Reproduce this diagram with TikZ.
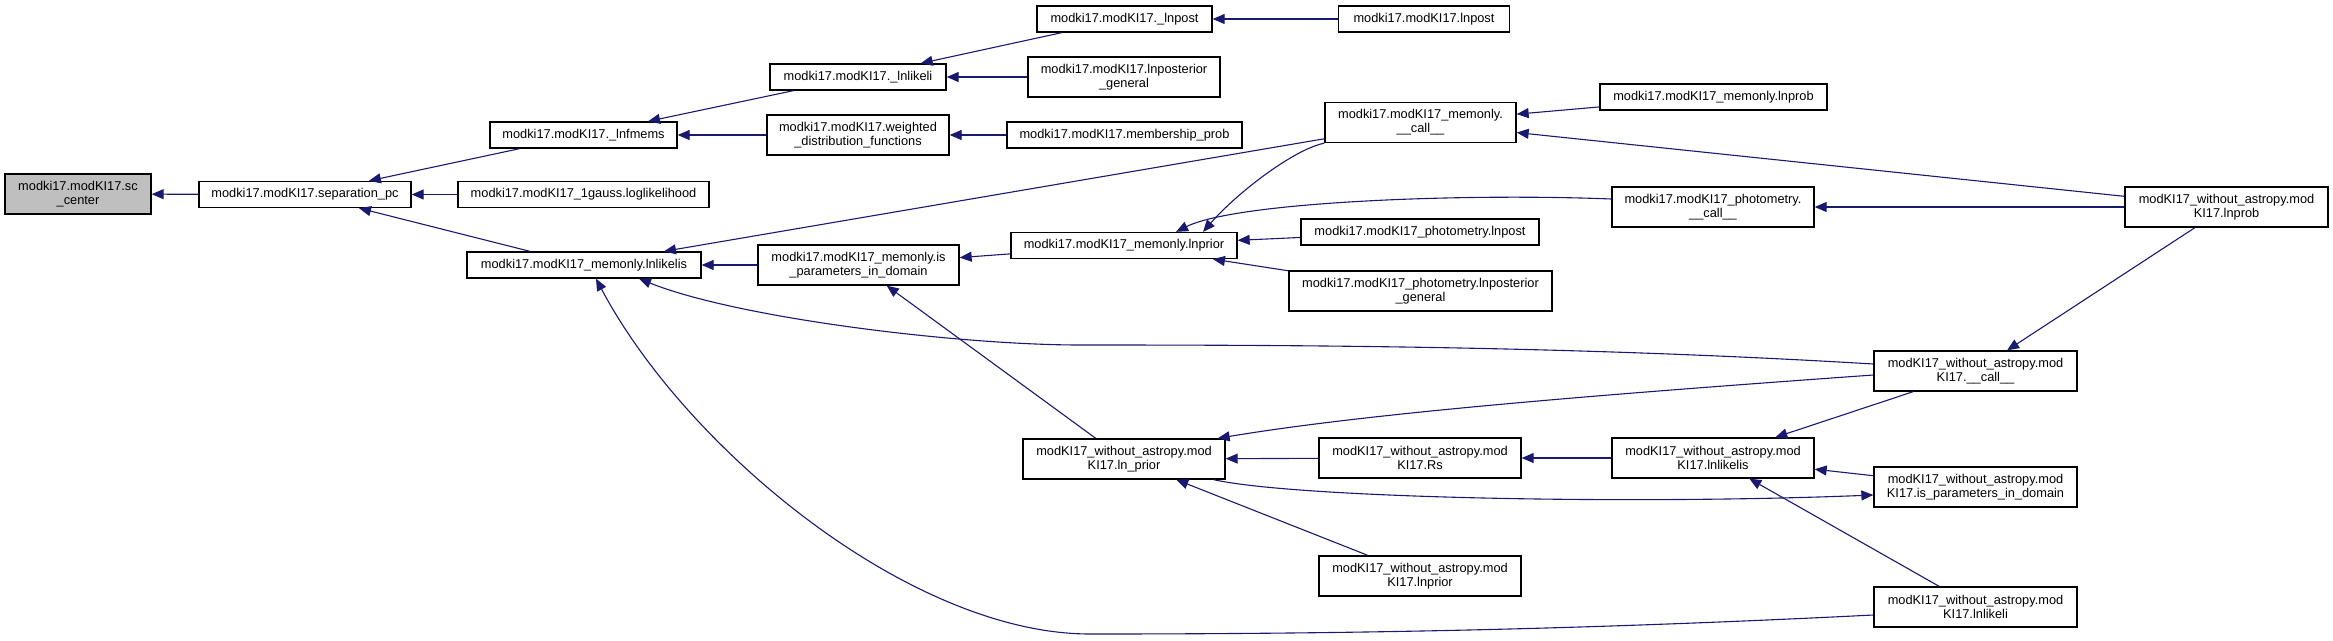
\documentclass[tikz,border=0pt]{standalone}
\usepackage{fontspec}
\setmainfont{Liberation Sans}
\usepackage{tikz}
\usetikzlibrary{positioning, arrows.meta, calc}
\usepackage{xcolor}
\definecolor{dxedge}{HTML}{191970}
\definecolor{dxroot}{HTML}{BFBFBF}

\begin{document}
\begin{tikzpicture}[x=1pt, y=-1pt, font=\fontsize{12.8}{14}\selectfont,
    fn/.style={draw=black, fill=white, line width=1.3pt, inner sep=0pt,
               align=center, minimum height=26pt},
    fn2/.style={fn, minimum height=40pt},
    cg/.style={draw=dxedge, line width=1.1pt, -{Triangle[length=12pt,width=10pt]}}]
    \useasboundingbox (0,0) rectangle (2333,640);

    % column 1 and 2
    \node[fn2, fill=dxroot, minimum width=146pt] (sccenter) at (78,194) {modki17.modKI17.sc\\\_center};
    \node[fn, minimum width=212pt] (seppc) at (305,194.5) {modki17.modKI17.separation\_pc};

    % column 3
    \node[fn, minimum width=187pt] (lnfmems) at (583.5,135) {modki17.modKI17.\_lnfmems};
    \node[fn, minimum width=251pt] (gausslike) at (583.5,194.5) {modki17.modKI17\_1gauss.loglikelihood};
    \node[fn, minimum width=234pt] (mlnlikelis) at (584,265) {modki17.modKI17\_memonly.lnlikelis};

    % column 4
    \node[fn, minimum width=176pt] (lnlikeli) at (858,77) {modki17.modKI17.\_lnlikeli};
    \node[fn2, minimum width=182pt] (weighted) at (858,135) {modki17.modKI17.weighted\\\_distribution\_functions};
    \node[fn2, minimum width=201pt] (misparams) at (858.5,265) {modki17.modKI17\_memonly.is\\\_parameters\_in\_domain};

    % column 5
    \node[fn, minimum width=175pt] (ulnpost) at (1124.5,19) {modki17.modKI17.\_lnpost};
    \node[fn2, minimum width=192pt] (posterior) at (1124,77) {modki17.modKI17.lnposterior\\\_general};
    \node[fn, minimum width=235pt] (membership) at (1124.5,135) {modki17.modKI17.membership\_prob};
    \node[fn, minimum width=226pt] (mlnprior) at (1124,245.5) {modki17.modKI17\_memonly.lnprior};
    \node[fn2, minimum width=202pt] (wlnunder) at (1124,459) {modKI17\_without\_astropy.mod\\KI17.ln\_prior};

    % column 6
    \node[fn, minimum width=171pt] (lnpost) at (1424,19) {modki17.modKI17.lnpost};
    \node[fn2, minimum width=191pt] (mcall) at (1420.5,122.5) {modki17.modKI17\_memonly.\\\_\_call\_\_};
    \node[fn, minimum width=238pt] (plnpost) at (1420,232) {modki17.modKI17\_photometry.lnpost};
    \node[fn2, minimum width=263pt] (pposterior) at (1420.5,291) {modki17.modKI17\_photometry.lnposterior\\\_general};
    \node[fn2, minimum width=202pt] (wrs) at (1420,458) {modKI17\_without\_astropy.mod\\KI17.Rs};
    \node[fn2, minimum width=202pt] (wlnprior) at (1420,576) {modKI17\_without\_astropy.mod\\KI17.lnprior};

    % column 7
    \node[fn, minimum width=227pt] (mlnprob) at (1713.5,97) {modki17.modKI17\_memonly.lnprob};
    \node[fn2, minimum width=202pt] (pcall) at (1713,207) {modki17.modKI17\_photometry.\\\_\_call\_\_};
    \node[fn2, minimum width=202pt] (wlnlikelis) at (1713,458) {modKI17\_without\_astropy.mod\\KI17.lnlikelis};

    % column 8 and 9
    \node[fn2, minimum width=203pt] (wcall) at (1975.5,371) {modKI17\_without\_astropy.mod\\KI17.\_\_call\_\_};
    \node[fn2, minimum width=203pt] (wisparams) at (1975.5,487) {modKI17\_without\_astropy.mod\\KI17.is\_parameters\_in\_domain};
    \node[fn2, minimum width=203pt] (wlnlikeli) at (1975.5,607) {modKI17\_without\_astropy.mod\\KI17.lnlikeli};
    \node[fn2, minimum width=203pt] (wlnprob) at (2226.5,207) {modKI17\_without\_astropy.mod\\KI17.lnprob};

    % straight calls
    \draw[cg] (seppc) -- (sccenter);
    \draw[cg] (lnfmems) -- (seppc);
    \draw[cg] (gausslike) -- (seppc);
    \draw[cg] (mlnlikelis) -- (seppc);
    \draw[cg] (lnlikeli) -- (lnfmems);
    \draw[cg] (weighted) -- (lnfmems);
    \draw[cg] (ulnpost) -- (lnlikeli);
    \draw[cg] (posterior) -- (lnlikeli);
    \draw[cg] (lnpost) -- (ulnpost);
    \draw[cg] (membership) -- (weighted);
    \draw[cg] (mcall) -- (mlnlikelis);
    \draw[cg] (misparams) -- (mlnlikelis);
    \draw[cg] (mlnprior) -- (misparams);
    \draw[cg] (wlnunder) -- (misparams);
    \draw[cg] (plnpost) -- (mlnprior);
    \draw[cg] (pposterior) -- (mlnprior);
    \draw[cg] (mlnprob) -- (mcall);
    \draw[cg] (wlnprob) -- (mcall);
    \draw[cg] (wlnprob) -- (pcall);
    \draw[cg] (wlnprob) -- (wcall);
    \draw[cg] (wcall) -- (wlnlikelis);
    \draw[cg] (wlnlikelis) -- (wrs);
    \draw[cg] (wrs) -- (wlnunder);
    \draw[cg] (wlnprior) -- (wlnunder);
    \draw[cg] (wisparams) -- (wlnlikelis);
    \draw[cg] (wlnlikeli) -- (wlnlikelis);

    % curved calls
    \draw[cg] (mcall.south west) .. controls +(-30,6) and +(35,-40) .. ($(mlnprior.north)+(79,0)$);
    \draw[cg] ($(pcall.west)+(0,-8)$) .. controls +(-150,-6) and +(60,-30) .. ($(mlnprior.north)+(52,0)$);
    \draw[cg] ($(wlnunder.south east)+(-12,0)$) .. controls +(80,18) and +(-250,10) .. ($(wisparams.west)+(0,8)$);
    \draw[cg] ($(wcall.west)+(0,4)$) .. controls +(-280,20) and +(150,-25) .. ($(wlnunder.north east)+(-8,0)$);
    \draw[cg] ($(wcall.west)+(0,-7)$) .. controls +(-300,-18) and +(220,0) .. (1080,345)
        .. controls +(-120,0) and +(100,40) .. ($(mlnlikelis.south)+(55,0)$);
    \draw[cg] ($(wlnlikeli.west)+(0,8)$) .. controls +(-300,15) and +(250,0) .. (1090,634)
        .. controls +(-180,0) and +(90,170) .. ($(mlnlikelis.south)+(12,0)$);
\end{tikzpicture}
\end{document}
